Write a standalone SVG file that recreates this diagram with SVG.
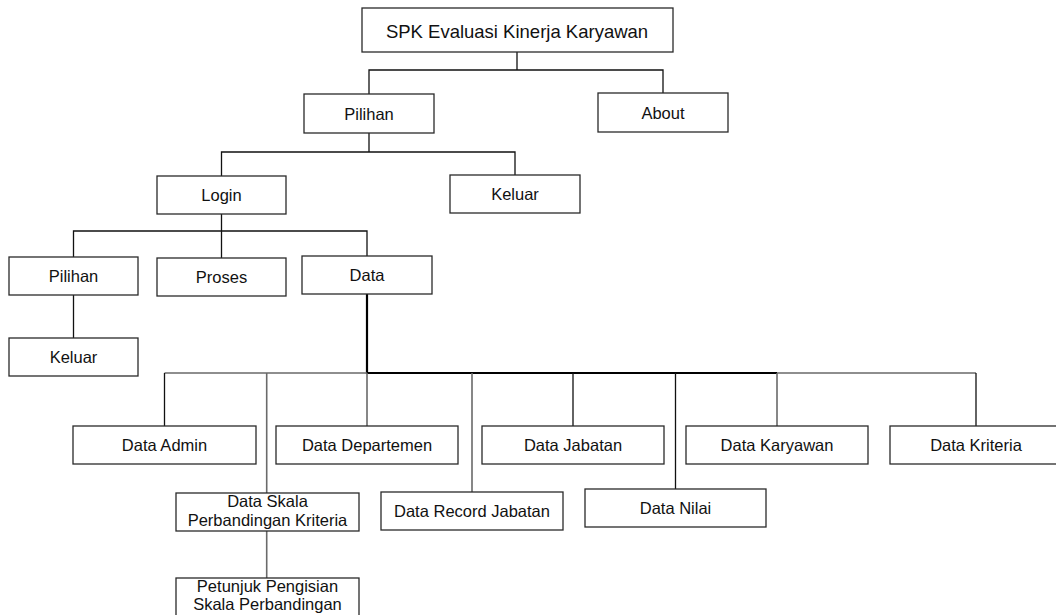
<svg xmlns="http://www.w3.org/2000/svg" width="1056" height="615" viewBox="0 0 1056 615">
<style>
.box{fill:#fff;stroke:#2a2a2a;stroke-width:1.3}
.lbl{font-family:"Liberation Sans",Arial,sans-serif;font-size:16.5px;fill:#111;text-anchor:middle}
.ttl{font-size:18.5px}
.ln{fill:none;stroke:#111;stroke-width:1.3}
.gr{fill:none;stroke:#6a6a6a;stroke-width:1.6}
.bold{fill:none;stroke:#000;stroke-width:2.2}
</style>
<rect width="1056" height="615" fill="#fff"/>
<g id="connectors">
<path class="ln" d="M517 52V70M369 94V70H663V93"/>
<path class="ln" d="M369 133V152M221.5 176V152H515V175"/>
<path class="ln" d="M221.5 214V231M73.5 257V231H367V256M221.5 231V258"/>
<path class="ln" d="M73.5 295V338"/>
<path class="bold" d="M367 294V373H777"/>
<path class="gr" d="M164.5 373H367M777 373H976"/>
<path class="ln" d="M164.5 373V426M573 373V426M675.5 373V489M976 373V426"/>
<path class="gr" d="M266.7 373V493M367 373V426M472 373V492M777 373V426M266.7 531V578"/>
</g>
<g id="spk"><rect class="box" x="362" y="8" width="311" height="44"/><text class="lbl ttl" x="517" y="37.5">SPK Evaluasi Kinerja Karyawan</text></g>
<g id="pilihan1"><rect class="box" x="304" y="94" width="130" height="39"/><text class="lbl" x="369" y="120">Pilihan</text></g>
<g id="about"><rect class="box" x="598" y="93" width="130" height="39"/><text class="lbl" x="663" y="119">About</text></g>
<g id="login"><rect class="box" x="157" y="176" width="129" height="38"/><text class="lbl" x="221.5" y="201">Login</text></g>
<g id="keluar1"><rect class="box" x="450" y="175" width="130" height="38"/><text class="lbl" x="515" y="200">Keluar</text></g>
<g id="pilihan2"><rect class="box" x="9" y="257" width="129" height="38"/><text class="lbl" x="73.5" y="282">Pilihan</text></g>
<g id="proses"><rect class="box" x="157" y="258" width="129" height="38"/><text class="lbl" x="221.5" y="283">Proses</text></g>
<g id="data"><rect class="box" x="302" y="256" width="130" height="38"/><text class="lbl" x="367" y="281">Data</text></g>
<g id="keluar2"><rect class="box" x="9" y="338" width="129" height="38"/><text class="lbl" x="73.5" y="363">Keluar</text></g>
<g id="dataAdmin"><rect class="box" x="73" y="426" width="183" height="38"/><text class="lbl" x="164.5" y="451">Data Admin</text></g>
<g id="dataDepartemen"><rect class="box" x="276" y="426" width="182" height="38"/><text class="lbl" x="367" y="451">Data Departemen</text></g>
<g id="dataJabatan"><rect class="box" x="482" y="426" width="182" height="38"/><text class="lbl" x="573" y="451">Data Jabatan</text></g>
<g id="dataKaryawan"><rect class="box" x="686" y="426" width="182" height="38"/><text class="lbl" x="777" y="451">Data Karyawan</text></g>
<g id="dataKriteria"><rect class="box" x="890" y="426" width="180" height="38"/><text class="lbl" x="976" y="451">Data Kriteria</text></g>
<g id="dataSkala"><rect class="box" x="176" y="493" width="183" height="38"/><text class="lbl" x="267.5" y="507">Data Skala</text><text class="lbl" x="267.5" y="525.5">Perbandingan Kriteria</text></g>
<g id="dataRecord"><rect class="box" x="381" y="492" width="182" height="38"/><text class="lbl" x="472" y="517">Data Record Jabatan</text></g>
<g id="dataNilai"><rect class="box" x="585" y="489" width="181" height="38"/><text class="lbl" x="675.5" y="514">Data Nilai</text></g>
<g id="petunjuk"><rect class="box" x="176" y="578" width="183" height="50"/><text class="lbl" x="267.5" y="592">Petunjuk Pengisian</text><text class="lbl" x="267.5" y="610">Skala Perbandingan</text></g>
</svg>
